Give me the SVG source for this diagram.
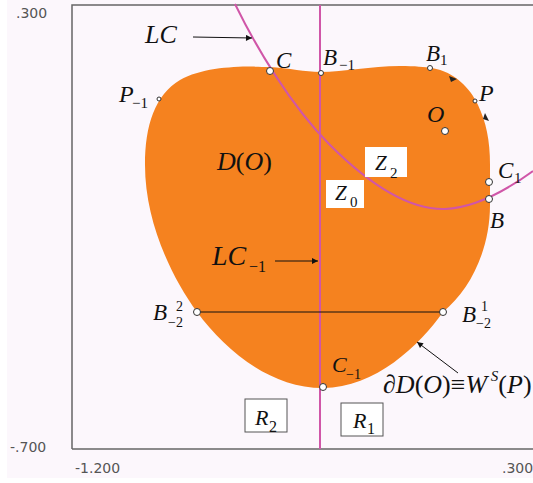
<svg xmlns="http://www.w3.org/2000/svg" width="533" height="483" viewBox="0 0 533 483">
<defs>
<style>
.lbl{font-family:"Liberation Serif","Times New Roman",serif;font-style:italic;fill:#111}
.up{font-style:normal}
.ax{font-family:"DejaVu Sans","Liberation Sans",sans-serif;font-size:14px;fill:#555}
.pt{fill:#fff;stroke:#333;stroke-width:1}
.pink{fill:none;stroke:#d056a8;stroke-width:2}
.arr{stroke:#111;stroke-width:1;fill:none;marker-end:url(#ah)}
</style>
<marker id="ah" viewBox="0 0 10 10" refX="10" refY="5" markerWidth="8" markerHeight="6" orient="auto" markerUnits="userSpaceOnUse">
<path d="M0,0 L10,5 L0,10 z" fill="#111"/>
</marker>
</defs>
<rect x="0" y="0" width="533" height="483" fill="#ffffff"/>
<rect x="7" y="0" width="526" height="478" fill="#fcf7fc"/>
<g id="frame">
<path d="M72,449 L72,5 L533,5" fill="none" stroke="#666" stroke-width="1.5"/>
<path d="M72,449 L533,449" fill="none" stroke="#666" stroke-width="1.5"/>
</g>
<g id="axes-labels">
<text class="ax" x="16" y="18">.300</text>
<text class="ax" x="10" y="452">-.700</text>
<text class="ax" x="75" y="473">-1.200</text>
<text class="ax" x="502" y="473">.300</text>
</g>
<g id="domain">
<path d="M269,67 C290,68 305,72 320,72 C345,72 370,66 400,66 C415,66 425,67 432,68 C455,72 470,88 478,105 C486,122 490,140 490,165 L490,205 C490,250 470,290 443,312 C420,345 375,388 323,388 C270,388 225,350 197,312 C170,275 145,220 145,165 C145,125 155,95 180,80 C205,66 245,66 269,67 Z" fill="#f5821f"/>
<path d="M449,76 L457,79 L451,82 Z" fill="#222"/>
<path d="M485,113 L489,121 L483,119 Z" fill="#222"/>
</g>
<g id="connectors">
<path class="pink" d="M235,4 C255,45 290,105 330,145 C370,185 410,210 445,209 C470,208 500,195 533,171"/>
<line class="pink" x1="320" y1="5" x2="320" y2="449"/>
<line x1="197" y1="312" x2="443" y2="312" stroke="#111" stroke-width="1"/>
<line class="arr" x1="193" y1="37" x2="252" y2="38"/>
<line class="arr" x1="275" y1="261" x2="318" y2="261"/>
<line class="arr" x1="458" y1="373" x2="417" y2="342"/>
</g>
<g id="points">
<circle class="pt" cx="270" cy="71" r="3.5"/>
<circle class="pt" cx="321" cy="73" r="2.5"/>
<circle class="pt" cx="430" cy="68" r="2.5"/>
<circle class="pt" cx="475" cy="101" r="2"/>
<circle class="pt" cx="445" cy="131" r="3.5"/>
<circle class="pt" cx="489" cy="182" r="3.5"/>
<circle class="pt" cx="489" cy="199" r="3.5"/>
<circle class="pt" cx="197" cy="312" r="3.5"/>
<circle class="pt" cx="443" cy="312" r="3.5"/>
<circle class="pt" cx="323" cy="387" r="3.5"/>
<circle class="pt" cx="159" cy="99" r="2"/>
</g>
<g id="labels">
<text class="lbl" x="145" y="43" font-size="26">LC</text>
<text class="lbl" x="276" y="68" font-size="23">C</text>
<text class="lbl" x="323" y="65" font-size="23">B</text><text class="lbl up" x="339" y="70" font-size="15">−1</text>
<text class="lbl" x="426" y="61" font-size="23">B</text><text class="lbl up" x="440" y="65" font-size="15">1</text>
<text class="lbl" x="479" y="101" font-size="24">P</text>
<text class="lbl" x="427" y="122" font-size="24">O</text>
<text class="lbl" x="498" y="178" font-size="23">C</text><text class="lbl up" x="514" y="183" font-size="15">1</text>
<text class="lbl" x="490" y="228" font-size="23">B</text>
<text class="lbl" x="119" y="102" font-size="24">P</text><text class="lbl up" x="132" y="108" font-size="15">−1</text>
<text class="lbl" x="217" y="170" font-size="26">D<tspan class="up">(</tspan>O<tspan class="up">)</tspan></text>
<g id="z2"><rect x="365" y="147" width="42" height="30" fill="#fff"/><text class="lbl" x="375" y="170" font-size="21">Z</text><text class="lbl up" x="390" y="178" font-size="15">2</text></g>
<g id="z0"><rect x="326" y="180" width="38" height="28" fill="#fff"/><text class="lbl" x="335" y="200" font-size="21">Z</text><text class="lbl up" x="350" y="207" font-size="15">0</text></g>
<text class="lbl" x="212" y="265" font-size="28">LC</text><text class="lbl up" x="249" y="272" font-size="16">−1</text>
<text class="lbl" x="153" y="320" font-size="23">B</text><text class="lbl up" x="176" y="311" font-size="14">2</text><text class="lbl up" x="168" y="327" font-size="14">−2</text>
<text class="lbl" x="462" y="322" font-size="23">B</text><text class="lbl up" x="481" y="311" font-size="14">1</text><text class="lbl up" x="476" y="328" font-size="14">−2</text>
<text class="lbl" x="332" y="372" font-size="22">C</text><text class="lbl up" x="346" y="379" font-size="14">−1</text>
<text class="lbl" x="383" y="393" font-size="26"><tspan class="up">∂</tspan>D<tspan class="up">(</tspan>O<tspan class="up">)≡</tspan>W<tspan font-size="15" dy="-12"> S</tspan><tspan class="up" dy="12">(</tspan>P<tspan class="up">)</tspan></text>
<g id="r2"><rect x="245" y="399" width="42" height="33" fill="#fff" stroke="#555" stroke-width="1"/><text class="lbl" x="255" y="425" font-size="22">R</text><text class="lbl up" x="269" y="432" font-size="16">2</text></g>
<g id="r1"><rect x="341" y="403" width="42" height="33" fill="#fff" stroke="#555" stroke-width="1"/><text class="lbl" x="353" y="428" font-size="22">R</text><text class="lbl up" x="367" y="434" font-size="16">1</text></g>
</g>
</svg>
